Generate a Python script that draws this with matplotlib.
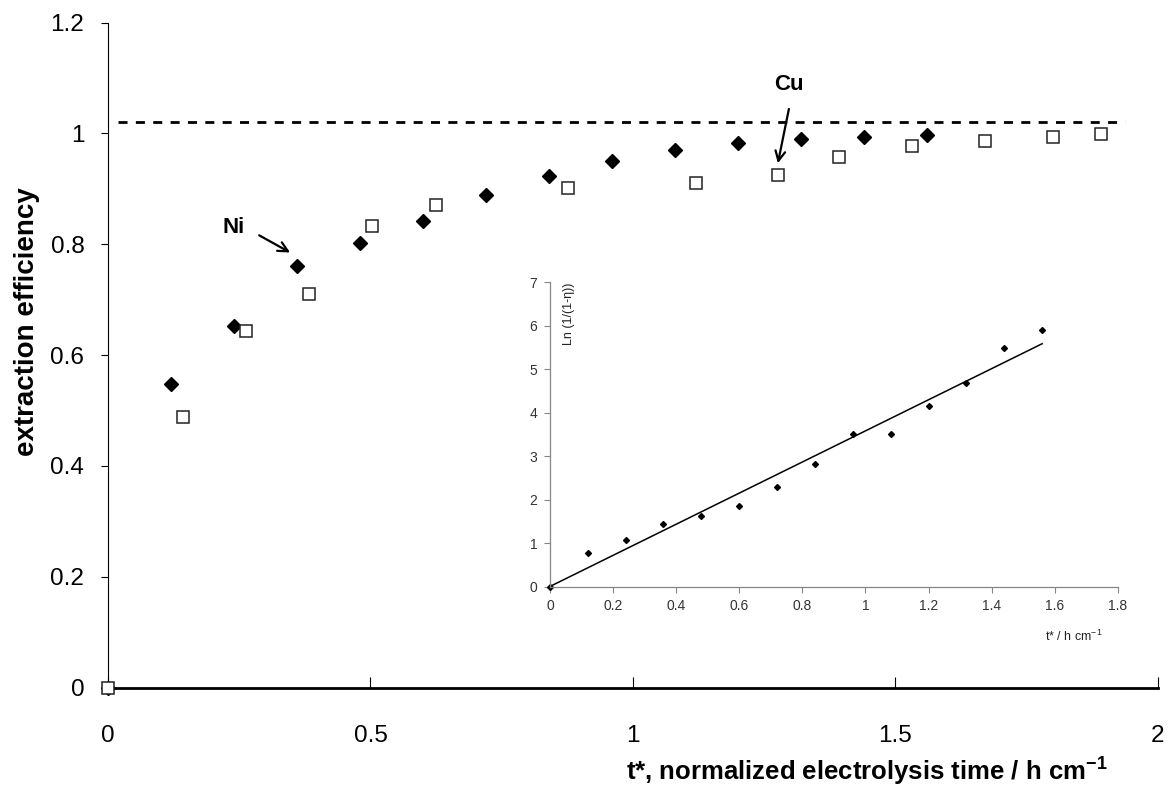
import numpy as np
import matplotlib
matplotlib.use("Agg")
import matplotlib.pyplot as plt

plt.rcParams['font.family'] = ['Liberation Sans', 'DejaVu Sans']
plt.rcParams['lines.scale_dashes'] = False

# ---- data ----
ni_t = [0, 0.12, 0.24, 0.36, 0.48, 0.60, 0.72, 0.84, 0.96, 1.08, 1.20, 1.32, 1.44, 1.56]
ni_eta = [0, 0.548, 0.653, 0.760, 0.803, 0.842, 0.888, 0.923, 0.950, 0.970, 0.983, 0.989, 0.994, 0.997]

cu_t = [0, 0.143, 0.263, 0.383, 0.503, 0.624, 0.877, 1.12, 1.276, 1.392, 1.531, 1.671, 1.80, 1.892]
cu_eta = [0, 0.489, 0.644, 0.710, 0.833, 0.871, 0.902, 0.910, 0.925, 0.957, 0.977, 0.986, 0.993, 0.998]

asymptote = 1.02
asym_t = [0.02, 1.937]

ln_t = [0, 0.12, 0.24, 0.36, 0.48, 0.60, 0.72, 0.84, 0.96, 1.08, 1.20, 1.32, 1.44, 1.56]
ln_y = [0, 0.78, 1.07, 1.44, 1.63, 1.86, 2.30, 2.82, 3.51, 3.52, 4.16, 4.68, 5.49, 5.91]

main_xticks = [0, 0.5, 1, 1.5, 2]
main_yticks = [0, 0.2, 0.4, 0.6, 0.8, 1.0, 1.2]
inset_xticks = [0, 0.2, 0.4, 0.6, 0.8, 1.0, 1.2, 1.4, 1.6, 1.8]
inset_yticks = [0, 1, 2, 3, 4, 5, 6, 7]

fig = plt.figure(figsize=(11.75, 7.93), dpi=100)

# ---- main axes ----
ax = fig.add_axes([0.0919, 0.1330, 0.8936, 0.8386])
ax.set_xlim(0, 2)
ax.set_ylim(0, 1.2)
for s in ['top', 'right']:
    ax.spines[s].set_visible(False)
ax.spines['left'].set_linewidth(0.8)
ax.spines['bottom'].set_linewidth(2.0)

ax.set_xticks(main_xticks)
ax.set_xticklabels([f'{v:g}' for v in main_xticks])
ax.set_yticks(main_yticks)
ax.set_yticklabels([f'{v:g}' for v in main_yticks])
ax.tick_params(axis='y', direction='out', length=5, width=0.8, pad=12, labelsize=17.5)
ax.tick_params(axis='x', direction='in', length=8, width=0.8, pad=27, labelsize=17.5)

ax.plot(asym_t, [asymptote, asymptote], color='black', lw=2.0, dashes=(6.5, 6))

ax.plot(ni_t, ni_eta, linestyle='none', marker='D', ms=6.8, color='black',
        mec='black', clip_on=False, zorder=3)
ax.plot(cu_t, cu_eta, linestyle='none', marker='s', ms=9.2, mfc='white',
        mec='#222222', mew=1.1, clip_on=False, zorder=4)

ax.set_xlabel('t*, normalized electrolysis time / h cm$^{\\mathregular{-1}}$',
              fontsize=18.5, fontweight='bold', ha='center', va='center')
ax.xaxis.set_label_coords(0.723, -0.125)
ax.set_ylabel('extraction efficiency', fontsize=20, fontweight='bold',
              ha='center', va='center')
ax.yaxis.set_label_coords(-0.077, 0.5496)

arrow = dict(arrowstyle='->,head_length=0.7,head_width=0.35', lw=1.6, color='black',
             shrinkA=0, shrinkB=0)
ax.annotate('', xy=(0.347, 0.785), xytext=(0.288, 0.816), arrowprops=arrow)
ax.text(0.24, 0.830, 'Ni', fontsize=16, fontweight='bold', ha='center', va='center')
ax.annotate('', xy=(1.276, 0.946), xytext=(1.297, 1.044), arrowprops=arrow)
ax.text(1.297, 1.089, 'Cu', fontsize=16, fontweight='bold', ha='center', va='center')

# ---- inset ----
gray = '#868686'
ax2 = fig.add_axes([0.468, 0.2604, 0.4834, 0.3834])
ax2.set_facecolor('none')
ax2.set_xlim(0, 1.8)
ax2.set_ylim(0, 7)
for s in ['top', 'right']:
    ax2.spines[s].set_visible(False)
for s in ['left', 'bottom']:
    ax2.spines[s].set_color(gray)
    ax2.spines[s].set_linewidth(0.9)
ax2.set_xticks(inset_xticks)
ax2.set_xticklabels([f'{v:g}' for v in inset_xticks])
ax2.set_yticks(inset_yticks)
ax2.set_yticklabels([f'{v:g}' for v in inset_yticks])
ax2.tick_params(direction='out', length=4, width=0.8, color=gray,
                labelsize=10, labelcolor='#333333', pad=5)

x = np.array(ln_t)
y = np.array(ln_y)
slope = np.sum(x * y) / np.sum(x * x)
ax2.plot([0, x.max()], [0, slope * x.max()], color='black', lw=1.1)
ax2.plot(ln_t, ln_y, linestyle='none', marker='D', ms=3.0, color='black', clip_on=False)

ax2.text(0.06, 7.0, 'Ln (1/(1-η))', rotation=90, fontsize=9, ha='center', va='top',
         color='#222222')
ax2.text(1.66, -1.16, 't* / h cm$^{\\mathregular{-1}}$', fontsize=9, ha='center', va='center',
         color='#222222', clip_on=False)

fig.savefig('out.png', dpi=100)
